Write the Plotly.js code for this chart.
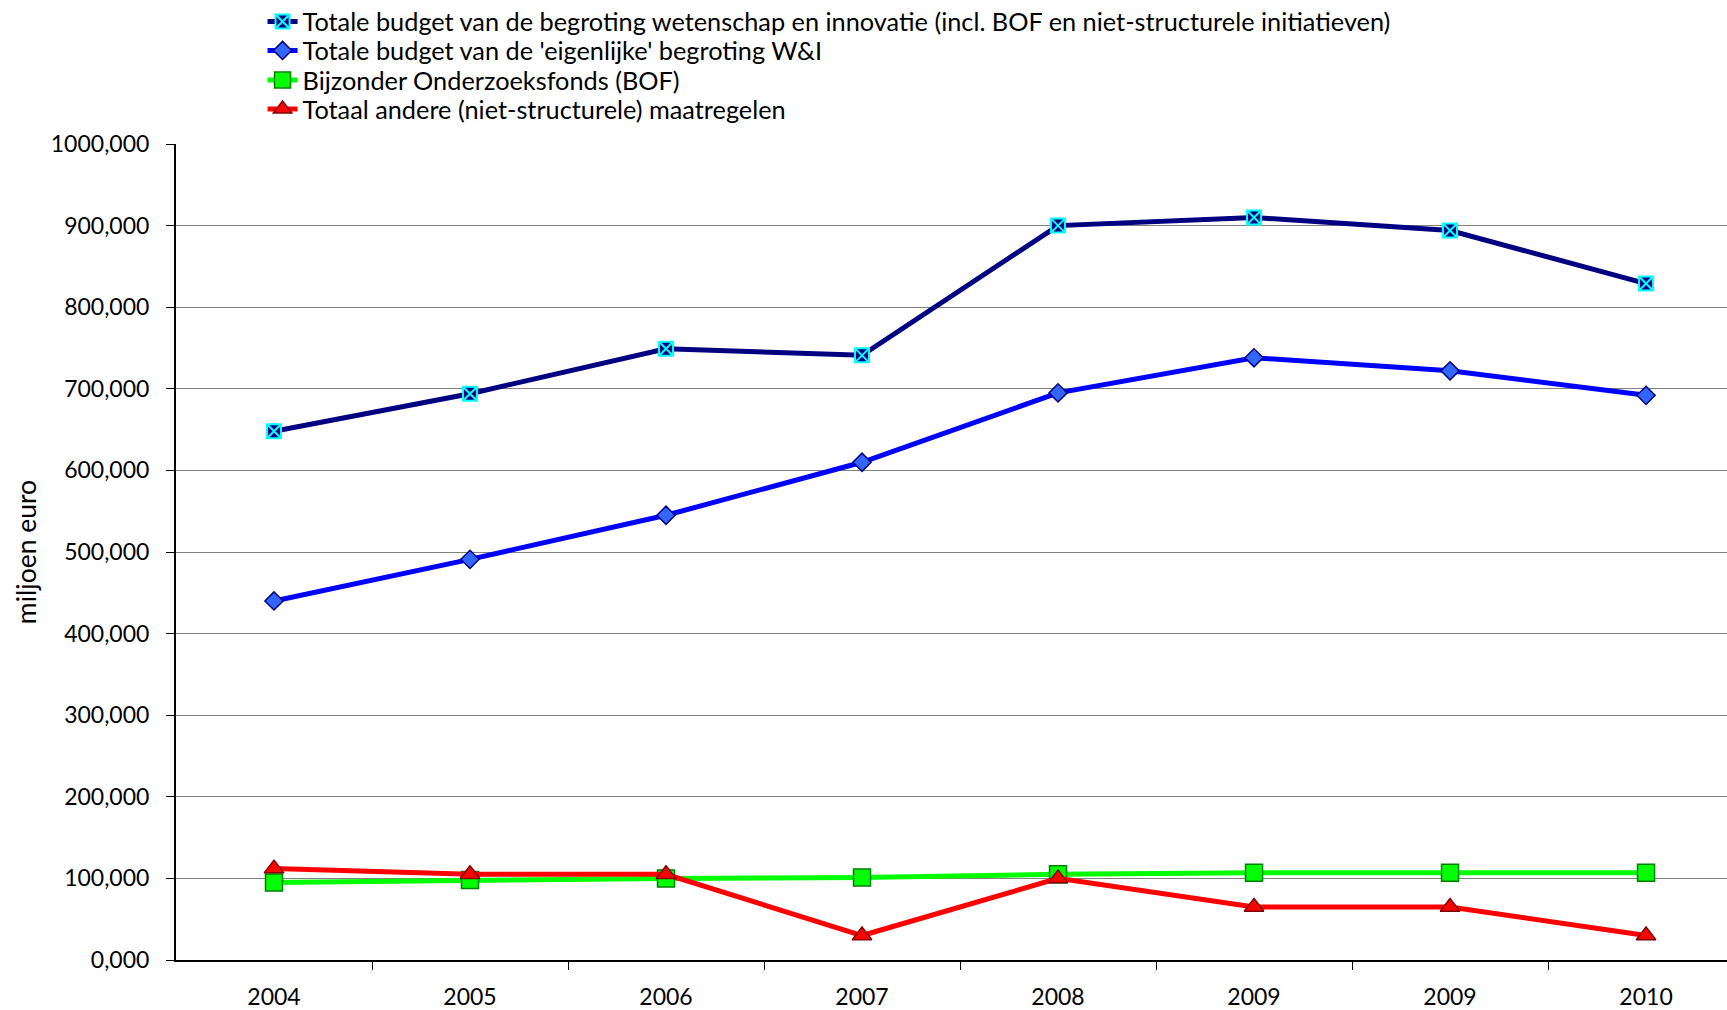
<!DOCTYPE html>
<html>
<head>
<meta charset="utf-8">
<script src="https://cdn.plot.ly/plotly-3.0.1.min.js"></script>
<style>html,body{margin:0;padding:0;background:#fff;}#chart{width:1727px;height:1010px;}</style>
</head>
<body>
<div id="chart"></div>
<script>
const categories = ["2004", "2005", "2006", "2007", "2008", "2009", "2009", "2010"];
const totaalIncl = [648, 694, 749, 741, 900, 910, 894, 829];
const eigenlijke = [440, 491, 545, 610, 695, 738, 722, 692];
const bof = [95, 98, 100, 101, 105, 107, 107, 107];
const andere = [112, 105, 105, 30, 100, 65, 65, 30];
const yTickVals = [0, 100, 200, 300, 400, 500, 600, 700, 800, 900, 1000];
const yTickText = ["0,000", "100,000", "200,000", "300,000", "400,000", "500,000", "600,000", "700,000", "800,000", "900,000", "1000,000"];
const seriesNames = [
  "Totale budget van de begroting wetenschap en innovatie (incl. BOF en niet-structurele initiatieven)",
  "Totale budget van de 'eigenlijke' begroting W&I",
  "Bijzonder Onderzoeksfonds (BOF)",
  "Totaal andere (niet-structurele) maatregelen"
];

const xPos = categories.map((c, i) => i);
const boundaries = categories.slice(0, -1).map((c, i) => i + 0.5);
const FONT = "Lato, 'Open Sans', sans-serif";

const traces = [
  {x: xPos, y: totaalIncl, name: seriesNames[0], mode: "lines+markers", legend: "legend",
   line: {color: "#000080", width: 5},
   marker: {symbol: "square-x", size: 14, color: "#000080", line: {color: "#00ffff", width: 2}}},
  {x: xPos, y: eigenlijke, name: seriesNames[1], mode: "lines+markers", legend: "legend2",
   line: {color: "#0000ff", width: 5},
   marker: {symbol: "diamond", size: 14, color: "#3366ff", line: {color: "#000080", width: 1.5}}},
  {x: xPos, y: bof, name: seriesNames[2], mode: "lines+markers", legend: "legend3",
   line: {color: "#00ff00", width: 5},
   marker: {symbol: "square", size: 17, color: "#00ff00", line: {color: "#008000", width: 1.5}}},
  {x: xPos, y: andere, name: seriesNames[3], mode: "lines+markers", legend: "legend4",
   line: {color: "#ff0000", width: 5},
   marker: {symbol: "triangle-up", size: 17, color: "#ff0000", line: {color: "#800000", width: 1.5}}}
];

function legendAt(yc) {
  return {x: 0.0558, xanchor: "left", y: 1 + (144 - yc) / 816, yanchor: "middle",
          font: {family: FONT, size: 25.3, color: "#000"},
          bgcolor: "rgba(0,0,0,0)", borderwidth: 0};
}

const layout = {
  width: 1727, height: 1010,
  margin: {l: 176, r: 0, t: 144, b: 50, pad: 0, autoexpand: false},
  paper_bgcolor: "#ffffff", plot_bgcolor: "#ffffff",
  font: {family: FONT, size: 23, color: "#000"},
  showlegend: true,
  legend: legendAt(21.5),
  legend2: legendAt(50.5),
  legend3: legendAt(80),
  legend4: legendAt(109),
  xaxis: {
    range: [-0.5, 7.413], tickvals: xPos, ticktext: categories,
    ticks: "", showgrid: false, zeroline: false,
    showline: true, linecolor: "#000", linewidth: 2,
    tickfont: {family: FONT, size: 23, color: "#000"},
    ticklabelstandoff: 15,
    minor: {tickvals: boundaries, ticks: "outside", ticklen: 8, tickcolor: "#000", tickwidth: 1, showgrid: false}
  },
  yaxis: {
    range: [0, 1000], tickvals: yTickVals, ticktext: yTickText,
    ticks: "outside", ticklen: 8, tickcolor: "#000", tickwidth: 1,
    showgrid: true, gridcolor: "#808080", gridwidth: 1,
    zeroline: false, showline: true, linecolor: "#000", linewidth: 2,
    tickfont: {family: FONT, size: 23, color: "#000"},
    ticklabelstandoff: 12,
    title: {text: "miljoen euro", font: {family: FONT, size: 26.5, color: "#000"}, standoff: 7}
  }
};

Plotly.newPlot("chart", traces, layout, {displayModeBar: false, staticPlot: true});
</script>
</body>
</html>
